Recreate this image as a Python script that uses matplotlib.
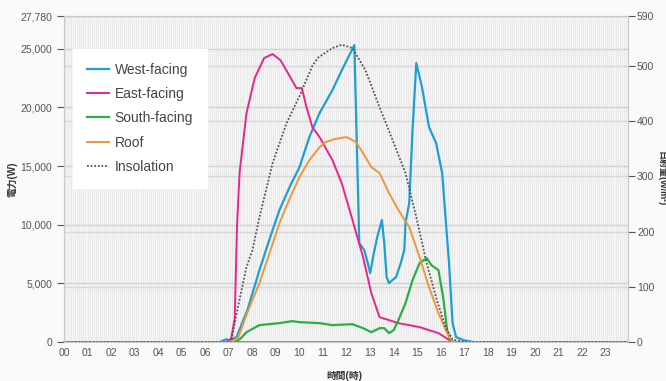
import matplotlib.pyplot as plt
import numpy as np

plt.rcParams['font.family'] = ['Liberation Sans', 'Noto Sans CJK JP', 'DejaVu Sans']

# hours of day
west_t = [0, 6.6, 6.9, 7.0, 7.33, 7.8, 8.3, 8.75, 9.15, 9.6, 10.0, 10.42, 10.85, 11.4, 11.8,
          12.33, 12.54, 12.75, 12.9, 13.0, 13.15, 13.3, 13.5, 13.6, 13.7, 13.8, 14.1, 14.3,
          14.45, 14.5, 14.66, 14.8, 14.96, 15.2, 15.5, 15.8, 16.06, 16.2, 16.35, 16.5, 16.65,
          17.0, 17.4, 24]
west = [0, 0, 250, 150, 430, 2800, 6130, 8900, 11250, 13300, 14900, 17470, 19500, 21470, 23170,
        25300, 8430, 7840, 6730, 5880, 7500, 8940, 10400, 8430, 5540, 5030, 5540, 6730,
        7840, 10140, 11840, 18060, 23770, 21730, 18320, 16960, 14400, 10650, 6730, 1620, 430,
        150, 0, 0]

east_t = [0, 6.9, 7.1, 7.25, 7.35, 7.46, 7.75, 8.1, 8.5, 8.86, 9.2, 9.6, 9.87, 10.1, 10.3,
          10.55, 10.85, 11.4, 11.8, 12.25, 12.7, 13.05, 13.4, 14.2, 15.1, 15.9, 16.5, 24]
east = [0, 0, 300, 2000, 10000, 14500, 19500, 22500, 24200, 24540, 24000, 22600, 21640, 21640, 20000,
        18300, 17470, 15500, 13500, 10400, 7240, 4170, 2130, 1620, 1280, 770, 0, 0]

south_t = [0, 7.25, 7.5, 7.75, 8.3, 9.15, 9.7, 10.0, 10.85, 11.4, 12.25, 12.7, 13.05, 13.4,
           13.6, 13.8, 14.0, 14.2, 14.5, 14.8, 15.1, 15.4, 15.6, 15.9, 16.1, 16.27, 16.4, 16.6, 24]
south = [0, 0, 300, 850, 1450, 1620, 1790, 1700, 1620, 1450, 1530, 1190, 850, 1190,
         1190, 770, 1020, 1870, 3320, 5280, 6730, 7160, 6560, 6130, 3830, 1020, 170, 0, 0]

roof_t = [0, 7.1, 7.4, 7.8, 8.3, 8.75, 9.15, 9.6, 10.0, 10.42, 10.85, 11.1, 11.5, 12.0, 12.4,
          12.7, 13.05, 13.4, 13.8, 14.2, 14.66, 15.1, 15.5, 15.9, 16.27, 16.5, 24]
roof = [0, 0, 400, 2600, 5030, 7700, 10140, 12300, 14060, 15500, 16600, 17040, 17300, 17470, 17040,
        16100, 14910, 14400, 12700, 11250, 9800, 7240, 4690, 2470, 770, 0, 0]

sun_t = [0, 7.1, 7.33, 7.75, 8.0, 8.3, 8.86, 9.45, 10.0, 10.55, 10.8, 11.4, 11.8, 12.25, 12.8,
         13.4, 13.95, 14.5, 14.96, 15.4, 15.8, 16.2, 16.5, 17.0, 24]
sun = [0, 0, 52, 136, 166, 226, 324, 396, 445, 500, 515, 532, 538, 532, 492,
       425, 366, 306, 226, 143, 81, 27, 5, 0, 0]

hour_labels = ['%02d' % h for h in range(24)]
left_ticks = [0, 5000, 10000, 15000, 20000, 25000, 27780]
right_ticks = [0, 100, 200, 300, 400, 500, 590]

fig = plt.figure(figsize=(6.66, 3.81), dpi=100, facecolor='#fafafa')
ax = fig.add_axes([0.096, 0.102, 0.847, 0.856])
ax.set_facecolor('#eaeaea')
ax2 = ax.twinx()

# dense vertical stripes every 5 minutes
for x in np.arange(0, 24, 1 / 12):
    ax.axvline(x, color='#f6f6f6', lw=0.7, zorder=0)
for y in left_ticks[1:]:
    ax.axhline(y, color='#d2d2d2', lw=1.0, zorder=0.5)
for y in right_ticks[1:]:
    ax.axhline(y / 590 * 27780, color='#d8d8d8', lw=1.0, zorder=0.5)

ax.plot(west_t, west, color='#1e9fd3', lw=1.6, label='West-facing', zorder=3)
ax.plot(east_t, east, color='#e8258c', lw=1.4, label='East-facing', zorder=3)
ax.plot(south_t, south, color='#2aae48', lw=1.6, label='South-facing', zorder=3)
ax.plot(roof_t, roof, color='#f0963a', lw=1.4, label='Roof', zorder=3)
l5, = ax2.plot(sun_t, sun, color='#555555', lw=1.3, ls=(0, (1, 1)), label='Insolation')

ax.set_xlim(0, 23.95)
ax.set_ylim(0, 27780)
ax2.set_ylim(0, 590)
ax.set_xticks(range(24))
ax.set_xticklabels(hour_labels)
ax.set_yticks(left_ticks)
ax.set_yticklabels(['{:,}'.format(v) for v in left_ticks])
ax2.set_yticks(right_ticks)

for a in (ax, ax2):
    a.tick_params(labelsize=7.5, colors='#555555', length=5, width=0.8)
    for s in a.spines.values():
        s.set_color('#c8c8c8')
ax2.tick_params(pad=1.5)
ax.tick_params(axis='x', length=0, pad=4)
ax.spines['bottom'].set_color('#808080')
ax.spines['bottom'].set_linewidth(1.2)

ax.set_ylabel('電力(W)', fontsize=7, fontweight='bold', color='#333333')
ax.yaxis.set_label_coords(-0.082, 0.5)
ax2.set_ylabel('日射量(W/m²)', fontsize=6.5, fontweight='bold', color='#333333', rotation=270, va='center')
ax2.yaxis.set_label_coords(1.06, 0.5)
ax.set_xlabel('時間(時)', fontsize=7, fontweight='bold', color='#333333')
ax.xaxis.set_label_coords(0.498, -0.09)

h, lab = ax.get_legend_handles_labels()
leg = ax2.legend(h + [l5], lab + ['Insolation'], loc='upper left', bbox_to_anchor=(0.016, 0.9),
                 fontsize=10, frameon=True, fancybox=False, borderaxespad=0, handlelength=1.6,
                 borderpad=1.0, labelspacing=0.75, handletextpad=0.4)
leg.get_frame().set_facecolor('white')
leg.get_frame().set_edgecolor('white')
leg.get_frame().set_alpha(1)
for t in leg.get_texts():
    t.set_color('#444444')

fig.savefig('out.png', dpi=100, facecolor=fig.get_facecolor())
